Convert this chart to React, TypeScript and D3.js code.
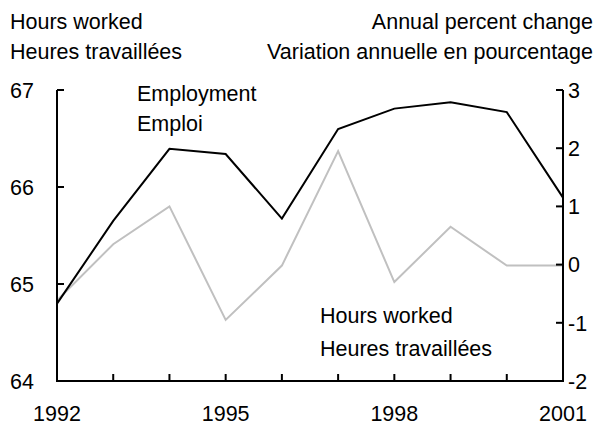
import React from "react";
import * as d3 from "d3";

const years = [1992, 1993, 1994, 1995, 1996, 1997, 1998, 1999, 2000, 2001];
const employment = [-0.67, 0.75, 1.99, 1.9, 0.79, 2.33, 2.68, 2.79, 2.62, 1.15];
const hoursWorked = [64.83, 65.41, 65.8, 64.63, 65.19, 66.37, 65.02, 65.59, 65.19, 65.19];
const leftTicks = [64, 65, 66, 67];
const rightTicks = [-2, -1, 0, 1, 2, 3];
const xLabels = [1992, 1995, 1998, 2001];

const W = 603;
const H = 431;
const L = 57;
const R = 563;
const T = 90;
const B = 381;
const FONT = "'Liberation Sans', Arial, sans-serif";
const FS = 21.5;

export default function App() {
  const x = d3.scaleLinear().domain([1992, 2001]).range([L, R]);
  const yL = d3.scaleLinear().domain([64, 67]).range([B, T]);
  const yR = d3.scaleLinear().domain([-2, 3]).range([B, T]);

  const empLine = d3
    .line<number>()
    .x((_, i) => x(years[i]))
    .y((d) => yR(d))(employment) as string;
  const hrsLine = d3
    .line<number>()
    .x((_, i) => x(years[i]))
    .y((d) => yL(d))(hoursWorked) as string;

  return (
    <svg
      width={W}
      height={H}
      style={{ position: "absolute", left: 0, top: 0, background: "#fff" }}
      fontFamily={FONT}
      fontSize={FS}
    >
      <rect x={0} y={0} width={W} height={H} fill="#fff" />
      {/* headers */}
      <text x={10} y={29} fill="#000">Hours worked</text>
      <text x={10} y={59} fill="#000">Heures travaillées</text>
      <text x={593} y={29} textAnchor="end" fill="#000">Annual percent change</text>
      <text x={593} y={59} textAnchor="end" fill="#000">Variation annuelle en pourcentage</text>

      {/* lines */}
      <path d={hrsLine} fill="none" stroke="#c0c0c0" strokeWidth={2} />
      <path d={empLine} fill="none" stroke="#000" strokeWidth={2} />

      {/* axes */}
      <path d={`M${L},${T}V${B}H${R}V${T}`} fill="none" stroke="#000" strokeWidth={2} />
      {leftTicks.map((t) => (
        <g key={"l" + t}>
          <line x1={L} x2={L + 7} y1={yL(t)} y2={yL(t)} stroke="#000" strokeWidth={2} />
          <text x={34} y={yL(t)} dy="0.36em" textAnchor="end">{t}</text>
        </g>
      ))}
      {rightTicks.map((t) => (
        <g key={"r" + t}>
          <line x1={R - 7} x2={R} y1={yR(t)} y2={yR(t)} stroke="#000" strokeWidth={2} />
          <text x={568} y={yR(t)} dy="0.36em" textAnchor="start">{t}</text>
        </g>
      ))}
      {years.map((yr) => (
        <line key={"x" + yr} x1={x(yr)} x2={x(yr)} y1={B} y2={B - 7} stroke="#000" strokeWidth={2} />
      ))}
      {xLabels.map((yr) => (
        <text key={"xl" + yr} x={x(yr)} y={421} textAnchor="middle">{yr}</text>
      ))}

      {/* series labels */}
      <text x={137} y={101}>Employment</text>
      <text x={137} y={131}>Emploi</text>
      <text x={320} y={323}>Hours worked</text>
      <text x={320} y={356}>Heures travaillées</text>
    </svg>
  );
}
